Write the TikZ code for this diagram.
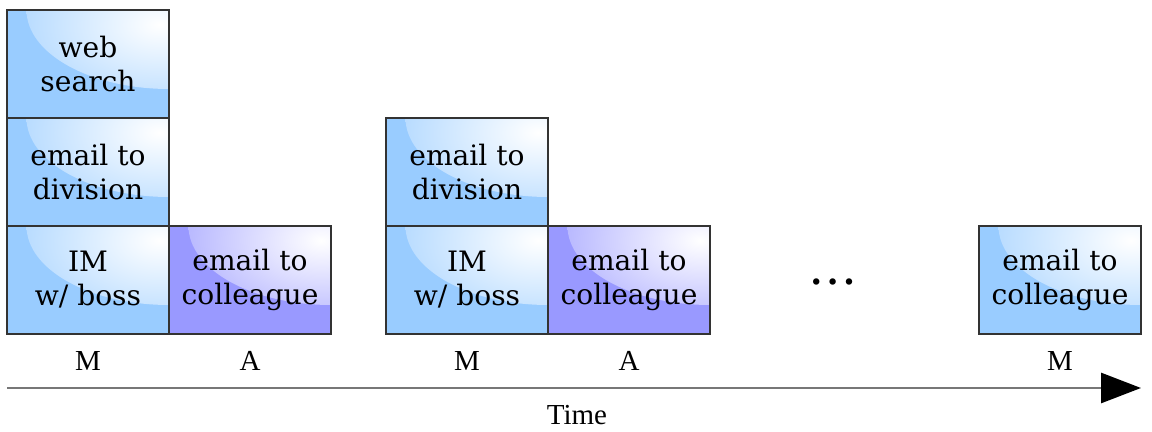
\documentclass[tikz,border=0pt]{standalone}
\usepackage{fontspec}
\setmainfont{DejaVu Serif}
\newfontfamily\axisfont{Liberation Serif}
\usetikzlibrary{arrows.meta, positioning}
\definecolor{cTask}{HTML}{99CCFF}
\definecolor{cColl}{HTML}{9999FF}
\definecolor{cEdge}{HTML}{333333}
\definecolor{cAxis}{HTML}{777777}
\tikzset{
  block/.style={draw=cEdge, line width=1.1pt, minimum width=3.24cm,
    minimum height=2.16cm, inner sep=0pt, outer sep=0pt, align=center,
    font=\fontsize{16}{19.3}\selectfont},
  gloss/.style={path picture={\shade[inner color=white, outer color=#1!78!white]
    (path picture bounding box.north east) ellipse (2.85cm and 1.58cm);}},
  taskblock/.style={block, fill=cTask, gloss=cTask},
  collblock/.style={block, fill=cColl, gloss=cColl},
  slotlabel/.style={font=\axisfont\fontsize{16.5}{19}\selectfont, inner sep=0pt},
  timeaxis/.style={-{Triangle[length=8mm, width=6mm, color=black]},
    line width=1.6pt, draw=cAxis},
}

\begin{document}
\begin{tikzpicture}[node distance=0pt]
  \useasboundingbox (0,0) rectangle (23.04,8.64);

  % ----------------------------------------------------------------
  % First day
  % ----------------------------------------------------------------
  \node[taskblock, anchor=south west] (im1) at (0.14,1.96) {IM\\ w/ boss};
  \node[taskblock, above=of im1]  (div1) {email to\\ division};
  \node[taskblock, above=of div1] (web1) {web\\ search};
  \node[collblock, right=of im1]  (col1) {email to\\ colleague};

  % ----------------------------------------------------------------
  % Second day
  % ----------------------------------------------------------------
  \node[taskblock, right=1.1cm of col1] (im2)  {IM\\ w/ boss};
  \node[taskblock, above=of im2]        (div2) {email to\\ division};
  \node[collblock, right=of im2]        (col2) {email to\\ colleague};

  \node[font=\fontsize{28}{32}\selectfont] (dots) at (16.66,3.0) {\dots};

  % ----------------------------------------------------------------
  % Last day
  % ----------------------------------------------------------------
  \node[taskblock, right=5.38cm of col2] (col3) {email to\\ colleague};

  % ----------------------------------------------------------------
  % Time slots and axis
  % ----------------------------------------------------------------
  \node[slotlabel, below=3.4mm of im1]  (m1) {M};
  \node[slotlabel, below=3.4mm of col1] (a1) {A};
  \node[slotlabel, below=3.4mm of im2]  (m2) {M};
  \node[slotlabel, below=3.4mm of col2] (a2) {A};
  \node[slotlabel, below=3.4mm of col3] (m3) {M};

  \coordinate (t0) at (0.14,0.88);
  \coordinate (t1) at (22.82,0.88);
  \draw[timeaxis] (t0) -- (t1);
  \node[slotlabel] (time) at (11.54,0.34) {Time};

\end{tikzpicture}
\end{document}
